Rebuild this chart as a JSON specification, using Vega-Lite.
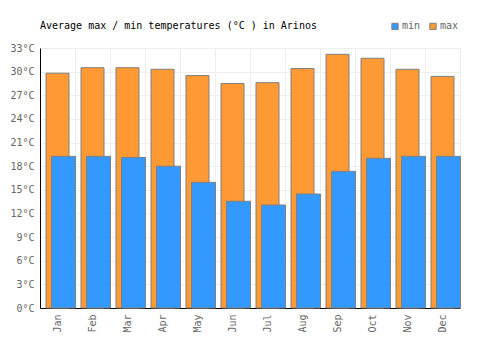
{
  "$schema": "https://vega.github.io/schema/vega-lite/v6.json",
  "width": 420,
  "height": 260,
  "autosize": "none",
  "padding": {"left": 40, "top": 48, "right": 40, "bottom": 42},
  "background": "white",
  "config": {
    "font": "DejaVu Sans Mono",
    "view": {"stroke": "#eeeeee"}
  },
  "title": {
    "text": "Average max / min temperatures (°C ) in Arinos",
    "anchor": "start",
    "frame": "group",
    "font": "DejaVu Sans Mono",
    "fontSize": 10,
    "fontWeight": "normal",
    "color": "#000000",
    "offset": -10
  },
  "data": {
    "values": [
      {"month": "Jan", "min": 19.25, "max": 29.8},
      {"month": "Feb", "min": 19.25, "max": 30.5},
      {"month": "Mar", "min": 19.1, "max": 30.5},
      {"month": "Apr", "min": 18.0, "max": 30.3},
      {"month": "May", "min": 15.95, "max": 29.5},
      {"month": "Jun", "min": 13.55, "max": 28.5},
      {"month": "Jul", "min": 13.07, "max": 28.6},
      {"month": "Aug", "min": 14.47, "max": 30.4},
      {"month": "Sep", "min": 17.35, "max": 32.2},
      {"month": "Oct", "min": 19.0, "max": 31.7},
      {"month": "Nov", "min": 19.25, "max": 30.3},
      {"month": "Dec", "min": 19.25, "max": 29.4}
    ]
  },
  "encoding": {
    "x": {
      "field": "month",
      "type": "nominal",
      "sort": null,
      "scale": {"paddingInner": 0, "paddingOuter": 0},
      "axis": {
        "title": null,
        "labelAngle": -90,
        "labelColor": "#666666",
        "labelFont": "DejaVu Sans Mono",
        "labelFontSize": 10,
        "labelPadding": 6,
        "ticks": false,
        "grid": true,
        "gridColor": "#eeeeee",
        "bandPosition": 0,
        "domainColor": "#000000",
        "domainWidth": 1
      }
    }
  },
  "layer": [
    {
      "mark": {"type": "bar", "width": 23, "stroke": "#808080", "strokeWidth": 1},
      "encoding": {
        "y": {
          "field": "max",
          "type": "quantitative",
          "scale": {"domain": [0, 33], "nice": false},
          "axis": {
            "title": null,
            "values": [0, 3, 6, 9, 12, 15, 18, 21, 24, 27, 30, 33],
            "labelExpr": "datum.value + '°C'",
            "labelOverlap": false,
            "labelFlush": false,
            "labelColor": "#666666",
            "labelFont": "DejaVu Sans Mono",
            "labelFontSize": 10,
            "labelPadding": 6,
            "ticks": false,
            "gridColor": "#eeeeee",
            "domainColor": "#000000",
            "domainWidth": 1
          }
        },
        "color": {
          "datum": "max",
          "type": "nominal",
          "scale": {"domain": ["min", "max"], "range": ["#3399ff", "#ff9933"]},
          "legend": {
            "title": null,
            "orient": "none",
            "direction": "horizontal",
            "legendX": 350,
            "legendY": -27,
            "symbolType": "square",
            "symbolSize": 40,
            "symbolStrokeColor": "#808080",
            "symbolStrokeWidth": 1,
            "symbolOpacity": 1,
            "labelColor": "#666666",
            "labelFont": "DejaVu Sans Mono",
            "labelFontSize": 10,
            "labelOffset": 2,
            "columnPadding": 6
          }
        }
      }
    },
    {
      "mark": {"type": "bar", "width": 24, "xOffset": 6, "stroke": "#808080", "strokeWidth": 1},
      "encoding": {
        "y": {
          "field": "min",
          "type": "quantitative",
          "scale": {"domain": [0, 33], "nice": false},
          "axis": {
            "title": null,
            "values": [0, 3, 6, 9, 12, 15, 18, 21, 24, 27, 30, 33],
            "labelExpr": "datum.value + '°C'",
            "labelOverlap": false,
            "labelFlush": false,
            "labelColor": "#666666",
            "labelFont": "DejaVu Sans Mono",
            "labelFontSize": 10,
            "labelPadding": 6,
            "ticks": false,
            "gridColor": "#eeeeee",
            "domainColor": "#000000",
            "domainWidth": 1
          }
        },
        "color": {"datum": "min", "type": "nominal"}
      }
    }
  ]
}
